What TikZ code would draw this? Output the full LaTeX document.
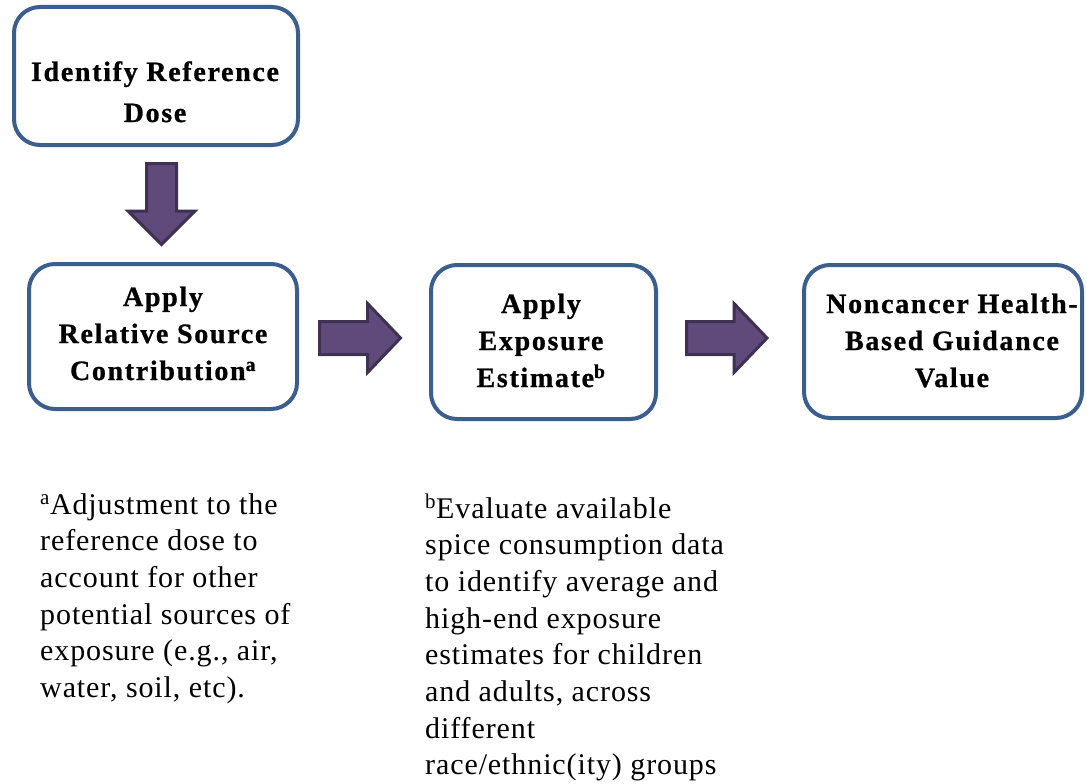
\documentclass[tikz,border=0pt]{standalone}
\usepackage{fontspec}
\setmainfont{Liberation Serif}
\newfontfamily\boxfont[LetterSpace=6,BoldFeatures={FakeBold=0.8}]{Liberation Serif}
\newfontfamily\notefont[LetterSpace=3]{Liberation Serif}
\definecolor{boxblue}{HTML}{3A5F8E}
\definecolor{arrfill}{HTML}{604A7B}
\definecolor{arrline}{HTML}{3F3151}
\begin{document}
\begin{tikzpicture}[x=1pt,y=-1pt,
  stepbox/.style={draw=boxblue, line width=4pt, rounded corners=26pt, fill=white, inner sep=0pt},
  boxtext/.style={inner sep=0pt, anchor=base, font=\boxfont\bfseries\fontsize{28}{37}\selectfont},
  notetext/.style={inner sep=0pt, anchor=base west, font=\notefont\fontsize{30}{36.7}\selectfont},
  blockarrow/.style={fill=arrfill, draw=arrline, line width=3pt, line join=miter}]
\useasboundingbox (0,0) rectangle (1087,784);
% boxes
\node[stepbox, minimum width=284pt, minimum height=138pt] (b1) at (156,76) {};
\node[stepbox, minimum width=268pt, minimum height=145pt] (b2) at (163,336.5) {};
\node[stepbox, minimum width=225pt, minimum height=154pt] (b3) at (543.5,342) {};
\node[stepbox, minimum width=278pt, minimum height=153pt] (b4) at (943,341.5) {};
% box texts
\node[boxtext, font=\boxfont\bfseries\fontsize{28}{41}\selectfont] (t1) at (155,81)
  {\begin{tabular}[t]{@{}c@{}}Identify Reference\\Dose\end{tabular}};
\node[boxtext] (t2) at (163,306)
  {\begin{tabular}[t]{@{}c@{}}Apply\\Relative Source\\Contribution\textsuperscript{a}\end{tabular}};
\node[boxtext] (t3) at (541,313)
  {\begin{tabular}[t]{@{}c@{}}Apply\\Exposure\\Estimate\textsuperscript{b}\end{tabular}};
\node[boxtext] (t4) at (952,313)
  {\begin{tabular}[t]{@{}c@{}}Noncancer Health-\\Based Guidance\\Value\end{tabular}};
% block arrows
\draw[blockarrow] (146.5,163.5) -- (176.5,163.5) -- (176.5,211) -- (195,211) -- (161.5,244.5)
  -- (128,211) -- (146.5,211) -- cycle;
\draw[blockarrow] (319.5,321.5) -- (367.5,321.5) -- (367.5,303.5) -- (400.5,338) -- (367.5,372.5)
  -- (367.5,354.5) -- (319.5,354.5) -- cycle;
\draw[blockarrow] (686.5,321.5) -- (734,321.5) -- (734,303.5) -- (767,338) -- (734,372.5)
  -- (734,354.5) -- (686.5,354.5) -- cycle;
% footnotes
\node[notetext] (na) at (40,514)
  {\begin{tabular}[t]{@{}l@{}}\textsuperscript{a}Adjustment to the\\reference dose to\\account for other\\potential sources of\\exposure (e.g., air,\\water, soil, etc).\end{tabular}};
\node[notetext] (nb) at (425,518)
  {\begin{tabular}[t]{@{}l@{}}\textsuperscript{b}Evaluate available\\spice consumption data\\to identify average and\\high-end exposure\\estimates for children\\and adults, across\\different\\race/ethnic(ity) groups\end{tabular}};
\end{tikzpicture}
\end{document}
